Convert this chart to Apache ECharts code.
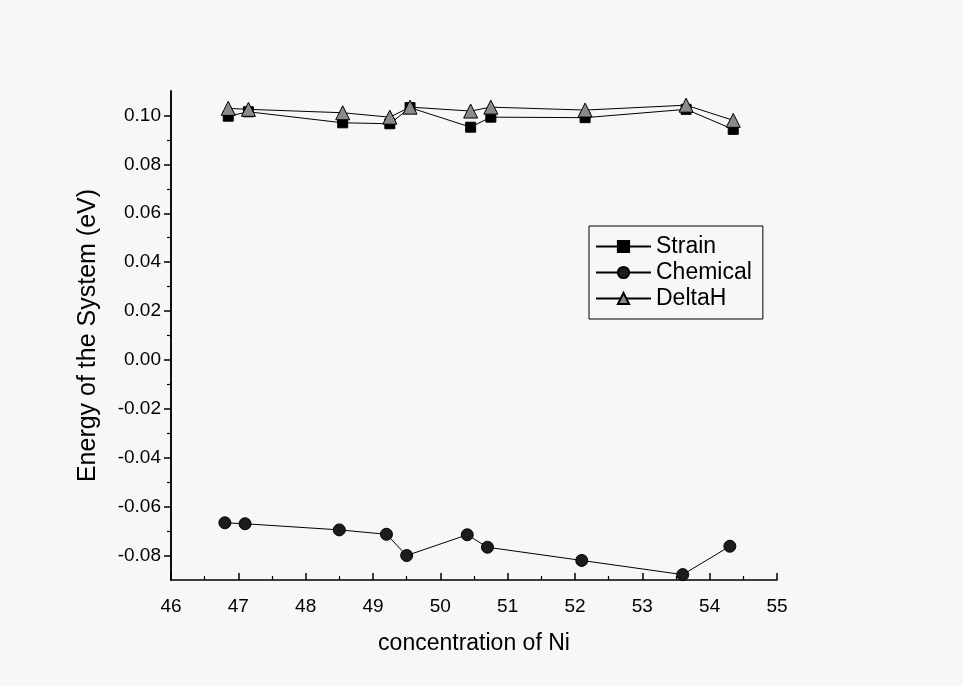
<!DOCTYPE html>
<html>
<head>
<meta charset="utf-8">
<script src="https://cdn.jsdelivr.net/npm/echarts@6/dist/echarts.min.js"></script>
<style>
html,body{margin:0;padding:0;background:#f7f7f7;}
#chart{width:963px;height:686px;}
</style>
</head>
<body>
<div id="chart"></div>
<script>
// x positions (concentration of Ni)
const xStrainDelta = [46.85, 47.15, 48.55, 49.25, 49.55, 50.45, 50.75, 52.15, 53.65, 54.35];
const xChemical    = [46.80, 47.10, 48.50, 49.20, 49.50, 50.40, 50.70, 52.10, 53.60, 54.30];
// energies (eV)
const strainValues   = [0.0997, 0.1015, 0.0970, 0.0966, 0.1032, 0.0952, 0.0993, 0.0991, 0.1025, 0.0943];
const chemicalValues = [-0.0666, -0.0670, -0.0695, -0.0713, -0.0800, -0.0715, -0.0766, -0.0820, -0.0878, -0.0762];
const deltaHValues   = [0.1029, 0.1025, 0.1011, 0.0993, 0.1034, 0.1018, 0.1034, 0.1022, 0.1042, 0.0980];
// axis ticks
const yMajorTicks = [-0.08, -0.06, -0.04, -0.02, 0.00, 0.02, 0.04, 0.06, 0.08, 0.10];
const yMinorTicks = [-0.07, -0.05, -0.03, -0.01, 0.01, 0.03, 0.05, 0.07, 0.09];
const seriesNames = ['Strain', 'Chemical', 'DeltaH'];

const pair = (xs, ys) => xs.map((x, i) => [x, ys[i]]);
const font = 'Liberation Sans, Arial, sans-serif';

const chart = echarts.init(document.getElementById('chart'));
chart.setOption({
  backgroundColor: '#f7f7f7',
  animation: false,
  grid: { left: 171, right: 186, top: 91, bottom: 106 },
  legend: {
    data: seriesNames,
    orient: 'vertical',
    left: 589, top: 226,
    padding: [9, 11, 9, 6],
    itemGap: 3,
    itemWidth: 55, itemHeight: 14,
    borderColor: '#000', borderWidth: 1,
    textStyle: { fontFamily: font, fontSize: 23, color: '#000' }
  },
  xAxis: {
    type: 'value', min: 46, max: 55, interval: 1,
    name: 'concentration of Ni', nameLocation: 'middle', nameGap: 52,
    nameTextStyle: { fontFamily: font, fontSize: 23, color: '#000' },
    axisLine: { onZero: false, lineStyle: { color: '#000', width: 1.5 } },
    axisTick: { inside: true, length: 7, lineStyle: { color: '#000', width: 1.5 } },
    minorTick: { show: true, splitNumber: 2, length: 4, lineStyle: { color: '#000', width: 1.2 } },
    axisLabel: { fontFamily: font, fontSize: 19, color: '#000', margin: 17 },
    splitLine: { show: false }
  },
  yAxis: [{
    type: 'value', min: -0.09, max: 0.11,
    name: 'Energy of the System (eV)', nameLocation: 'middle', nameGap: 70,
    nameTextStyle: { fontFamily: font, fontSize: 25, color: '#000' },
    axisLine: { onZero: false, lineStyle: { color: '#000', width: 1.5 } },
    axisTick: { length: 7, customValues: yMajorTicks, lineStyle: { color: '#000', width: 1.5 } },
    axisLabel: { fontFamily: font, fontSize: 19, color: '#000', margin: 10,
      customValues: yMajorTicks, formatter: v => v.toFixed(2) },
    splitLine: { show: false }
  }, {
    type: 'value', min: -0.09, max: 0.11, position: 'left', offset: 0,
    axisLine: { show: true, onZero: false, lineStyle: { color: '#000', width: 1.5 } },
    axisTick: { length: 4, customValues: yMinorTicks, lineStyle: { color: '#000', width: 1.2 } },
    axisLabel: { show: false },
    splitLine: { show: false }
  }],
  series: [{
    name: 'Strain', type: 'line', data: pair(xStrainDelta, strainValues),
    symbol: 'rect', symbolSize: 10, showAllSymbol: true,
    lineStyle: { color: '#000', width: 1 },
    itemStyle: { color: '#000', borderColor: '#000', borderWidth: 1 }, z: 2
  }, {
    name: 'Chemical', type: 'line', data: pair(xChemical, chemicalValues),
    symbol: 'circle', symbolSize: 12, showAllSymbol: true,
    lineStyle: { color: '#000', width: 1 },
    itemStyle: { color: '#1c1c1c', borderColor: '#000', borderWidth: 1 }, z: 2
  }, {
    name: 'DeltaH', type: 'line', data: pair(xStrainDelta, deltaHValues),
    symbol: 'triangle', symbolSize: 14, showAllSymbol: true,
    lineStyle: { color: '#000', width: 1 },
    itemStyle: { color: '#8a8a8a', borderColor: '#000', borderWidth: 1 }, z: 3
  }]
});
</script>
</body>
</html>
